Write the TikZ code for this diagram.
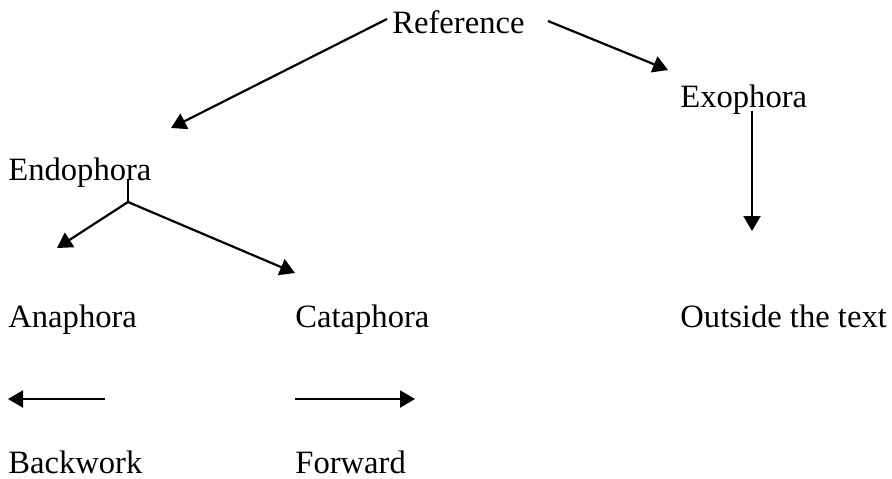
\documentclass[tikz,border=0pt]{standalone}
\usepackage{fontspec}
\setmainfont{Liberation Serif}
\usetikzlibrary{arrows.meta}

\begin{document}
\begin{tikzpicture}[x=0.5pt, y=-0.5pt,
    every node/.style={font=\fontsize{16.3}{20}\selectfont, inner sep=0, anchor=base west},
    link/.style={line width=1.1pt, -{Triangle[length=7.5pt, width=8.5pt]}}]
    \useasboundingbox (0,0) rectangle (892,478);
    % terms
    \node (ref) at (392,33) {Reference};
    \node (exo) at (680,107) {Exophora};
    \node (endo) at (8,180) {Endophora};
    \node (ana) at (8,327) {Anaphora};
    \node (cata) at (295,327) {Cataphora};
    \node (outside) at (680,327) {Outside the text};
    \node (back) at (8,473) {Backwork};
    \node (fwd) at (295,473) {Forward};
    % arrow ends
    \coordinate (refL) at (387,19);
    \coordinate (refR) at (548,21);
    \coordinate (endoTip) at (171,128);
    \coordinate (exoTip) at (668,70);
    \coordinate (exoTop) at (752,111);
    \coordinate (exoBot) at (752,231);
    \coordinate (fork) at (128,202);
    \coordinate (anaTip) at (57,248);
    \coordinate (cataTip) at (295,273);
    \coordinate (backStart) at (105,399);
    \coordinate (backTip) at (8,399);
    \coordinate (fwdStart) at (295,399);
    \coordinate (fwdTip) at (415,399);
    % connectors
    \draw[link] (refL) -- (endoTip);
    \draw[link] (refR) -- (exoTip);
    \draw[link] (exoTop) -- (exoBot);
    \draw[line width=1.1pt] (fork) -- (128,179);
    \draw[link] (fork) -- (anaTip);
    \draw[link] (fork) -- (cataTip);
    \draw[link] (backStart) -- (backTip);
    \draw[link] (fwdStart) -- (fwdTip);
\end{tikzpicture}
\end{document}
